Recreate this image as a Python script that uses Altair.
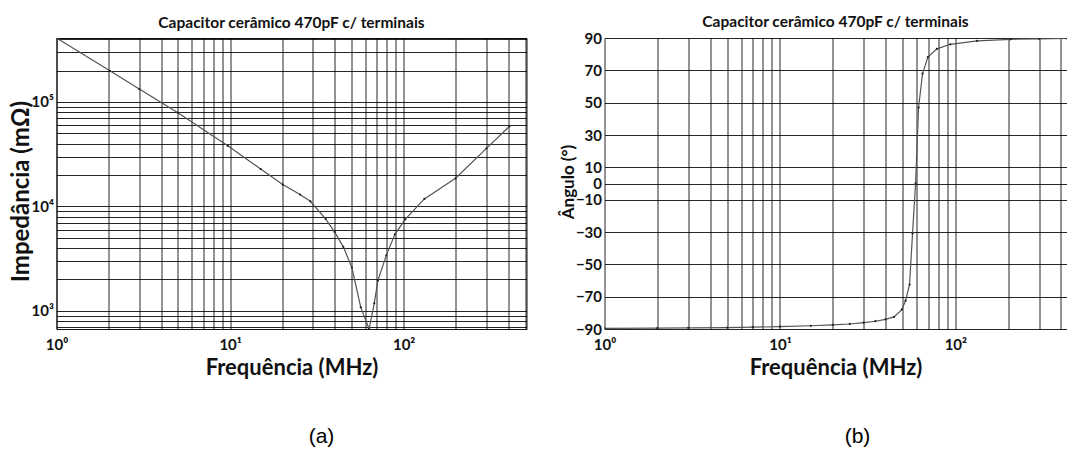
import altair as alt
import pandas as pd

# Impedance magnitude of the 470 pF ceramic capacitor (with leads)
imp_freq_mhz = [1, 2.03, 3, 5, 9.7, 15, 20.1, 25.3, 29, 35.5, 40, 44.9, 50.3, 56.6,
                63.2, 67.7, 71, 79.4, 89, 102, 131.6, 199, 300, 407]
imp_mohm = [4.1e5, 1.99e5, 1.33e5, 7.9e4, 3.8e4, 2.28e4, 1.62e4, 1.3e4, 1.12e4, 7.6e3,
            5.7e3, 4.1e3, 2.6e3, 1.08e3, 670, 1.18e3, 1.95e3, 3.4e3, 5.4e3, 7.5e3,
            1.18e4, 1.86e4, 3.6e4, 5.85e4]

# Impedance phase angle
ph_freq_mhz = [1, 2, 3, 5, 7, 10, 15, 20, 25, 30, 35, 40, 44.7, 49.5, 52, 54.8, 57,
               59.3, 61.7, 65, 69.7, 78.5, 93.6, 133, 206, 300, 430]
ph_deg = [-89.6, -89.5, -89.3, -89.1, -88.9, -88.5, -88.0, -87.5, -86.9, -86.1, -85.2,
          -84.0, -82.5, -78.0, -72.5, -62.5, -31.0, 0.0, 47.0, 68.0, 78.2, 83.3, 86.1,
          88.2, 89.2, 89.5, 89.7]

title_text = "Capacitor cerâmico 470pF c/ terminais"
x_title = "Frequência (MHz)"
phase_ticks = [-90, -70, -50, -30, -10, 0, 10, 30, 50, 70, 90]

FONT = "Lato"
INK = "#111111"

# log-paper grid lines: 1..9 of each decade
freq_grid = [m * 10 ** e for e in range(0, 3) for m in range(1, 10) if m * 10 ** e <= 500]
imp_grid = [m * 10 ** e for e in range(2, 6) for m in range(1, 10)
            if 700 <= m * 10 ** e <= 4e5]

imp_df = pd.DataFrame({"f": imp_freq_mhz, "z": imp_mohm})
ph_df = pd.DataFrame({"f": ph_freq_mhz, "a": ph_deg})

x_label_expr = ("datum.value == 1 ? '10⁰' : datum.value == 10 ? '10¹' : "
                "datum.value == 100 ? '10²' : ''")
y_label_expr = ("datum.value == 1000 ? '10³' : datum.value == 10000 ? '10⁴' : "
                "datum.value == 100000 ? '10⁵' : ''")

axis_common = dict(
    grid=True, gridColor="#000000", gridWidth=1, gridOpacity=0.85,
    ticks=False, domain=False, labelFont=FONT, labelFontWeight="bold",
    labelColor=INK, labelOverlap=False, labelBound=False, labelFlush=False,
    titleFont=FONT, titleFontWeight="bold", titleColor=INK,
)


def x_axis():
    return alt.Axis(values=freq_grid, labelExpr=x_label_expr, labelFontSize=15,
                    labelPadding=8, title=x_title, titleFontSize=22,
                    titlePadding=5, **axis_common)


def panel_title():
    return alt.TitleParams(title_text, font=FONT, fontSize=15.5, fontWeight="bold",
                           color=INK, anchor="middle", offset=1)


# ---- (a) impedance ----
x_a = alt.X("f:Q", scale=alt.Scale(type="log", domain=[1, 510], nice=False),
            axis=x_axis())
y_a = alt.Y("z:Q", scale=alt.Scale(type="log", domain=[670, 4.1e5], nice=False),
            axis=alt.Axis(values=imp_grid, labelExpr=y_label_expr, labelFontSize=15,
                          labelPadding=3, title="Impedância (mΩ)", titleFontSize=24,
                          titleAngle=-90, titleX=-35.5, titleY=153, titleAlign="center",
                          titleBaseline="middle", **axis_common))

base_a = alt.Chart(imp_df).encode(x=x_a, y=y_a)
line_a = base_a.mark_line(color="#555555", strokeWidth=1.2, clip=True)
dots_a = base_a.mark_point(filled=True, size=5, color="#222222", opacity=1, clip=True)
cap_a = alt.Chart(pd.DataFrame({"t": ["(a)"]})).mark_text(
    font="Liberation Sans", fontSize=21, color="#000000", baseline="middle"
).encode(text="t:N", x=alt.value(265), y=alt.value(399))

panel_a = alt.layer(line_a, dots_a, cap_a).properties(
    width=470, height=291,
    title=panel_title(),
    view=alt.ViewBackground(stroke="#111111", strokeWidth=1),
)

# ---- (b) phase ----
x_b = alt.X("f:Q", scale=alt.Scale(type="log", domain=[1, 430], nice=False),
            axis=x_axis())
y_b = alt.Y("a:Q", scale=alt.Scale(domain=[-90, 90], nice=False, zero=False),
            axis=alt.Axis(values=phase_ticks, format="d", labelFontSize=15,
                          labelPadding=3, title="Ângulo (°)", titleFontSize=17,
                          titleAngle=-90, titleX=-36, titleY=143.5, titleAlign="center",
                          titleBaseline="middle", **axis_common))

base_b = alt.Chart(ph_df).encode(x=x_b, y=y_b)
line_b = base_b.mark_line(color="#555555", strokeWidth=1.2, clip=True)
dots_b = base_b.mark_point(filled=True, size=5, color="#222222", opacity=1, clip=True)
cap_b = alt.Chart(pd.DataFrame({"t": ["(b)"]})).mark_text(
    font="Liberation Sans", fontSize=21, color="#000000", baseline="middle"
).encode(text="t:N", x=alt.value(253), y=alt.value(399))

panel_b = alt.layer(line_b, dots_b, cap_b).properties(
    width=462, height=291,
    title=panel_title(),
    view=alt.ViewBackground(stroke=None),
)

chart = alt.hconcat(panel_a, panel_b, spacing=32).properties(
    padding={"left": 8.5, "top": 14, "right": 0, "bottom": 0},
    background="white",
)

chart.save("out.html", embed_options={"renderer": "svg", "actions": False})
